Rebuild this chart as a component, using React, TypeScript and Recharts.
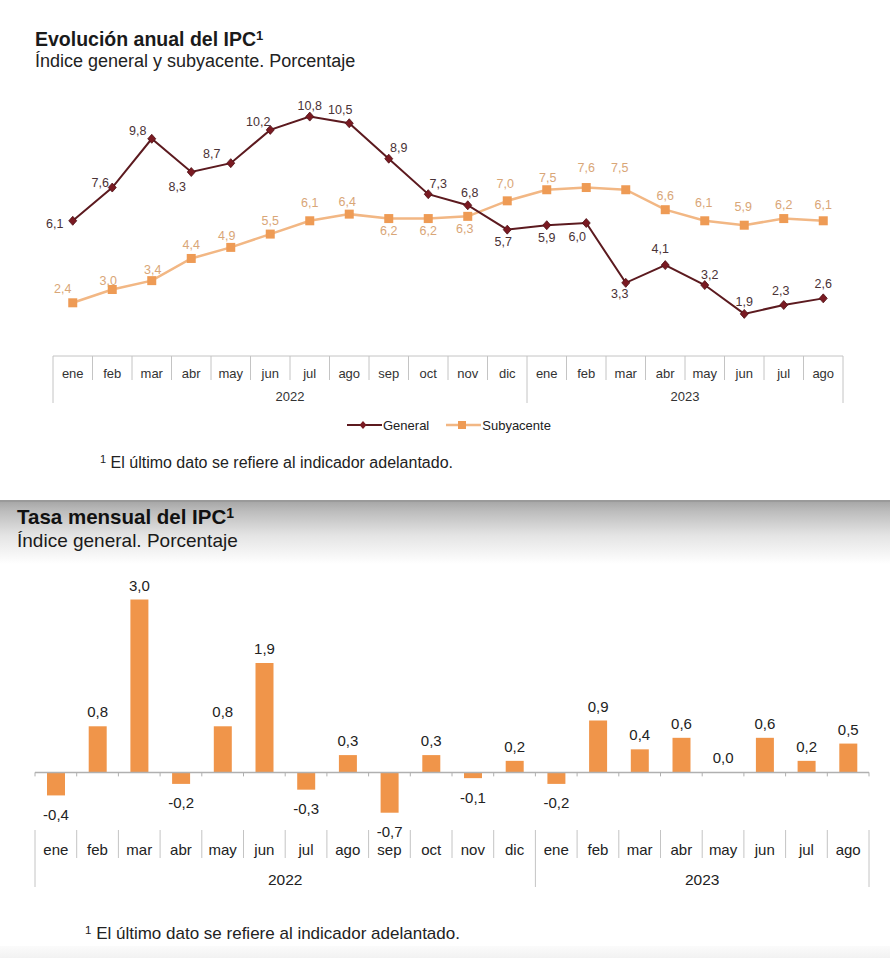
import React from 'react';
import { LineChart, Line, XAxis, YAxis, BarChart, Bar, LabelList, ReferenceLine } from 'recharts';

// ---------- data ----------
const months = ['ene', 'feb', 'mar', 'abr', 'may', 'jun', 'jul', 'ago', 'sep', 'oct', 'nov', 'dic', 'ene', 'feb', 'mar', 'abr', 'may', 'jun', 'jul', 'ago'];
const years = ['2022', '2022', '2022', '2022', '2022', '2022', '2022', '2022', '2022', '2022', '2022', '2022', '2023', '2023', '2023', '2023', '2023', '2023', '2023', '2023'];
const general = [6.1, 7.6, 9.8, 8.3, 8.7, 10.2, 10.8, 10.5, 8.9, 7.3, 6.8, 5.7, 5.9, 6.0, 3.3, 4.1, 3.2, 1.9, 2.3, 2.6];
const subyacente = [2.4, 3.0, 3.4, 4.4, 4.9, 5.5, 6.1, 6.4, 6.2, 6.2, 6.3, 7.0, 7.5, 7.6, 7.5, 6.6, 6.1, 5.9, 6.2, 6.1];
const mensual = [-0.4, 0.8, 3.0, -0.2, 0.8, 1.9, -0.3, 0.3, -0.7, 0.3, -0.1, 0.2, -0.2, 0.9, 0.4, 0.6, 0.0, 0.6, 0.2, 0.5];

// label placement (style only)
const genLabelOffsets: [number, number][] = [[-18, 3], [-12, -5], [-14, -8], [-14, 15], [-19, -9], [-12, -8], [0, -11], [-9, -13], [10, -11], [10, -10], [2, -12], [-4, 12], [0, 13], [-9, 14], [-6, 11], [-5, -16], [5, -10], [0, -12], [-3, -14], [0, -14]];
const subLabelOffsets: [number, number][] = [[-10, -14], [-4, -9], [1, -11], [0, -13], [-4, -11], [0, -13], [0, -18], [-2, -12], [0, 12], [0, 12], [-3, 13], [-2, -17], [1, -12], [0, -20], [-6, -22], [0, -14], [-1, -18], [-1, -18], [0, -14], [0, -16]];

const annualData = months.map((m, i) => ({ id: `${years[i]}-${m}-${i}`, general: general[i], subyacente: subyacente[i] }));
const monthlyData = months.map((m, i) => ({ id: `${years[i]}-${m}-${i}`, mensual: mensual[i] }));

const FONT = '"Liberation Sans", Arial, Helvetica, sans-serif';
const fmt = (v: number) => v.toFixed(1).replace('.', ',');

const GEN_LINE = '#5c1a1f';
const GEN_DOT = '#7a1a22';
const SUB_LINE = '#f2b784';
const SUB_DOT = '#ee9b55';
const BAR = '#f0954a';
const GRID = '#c4c4c4';

type TickCfg = { bw: number; monthDy: number; sepLen: number; longLen: number; yearDy: number; fontSize: number; yearFontSize: number; color: string };

function makeTick(cfg: TickCfg) {
  return (props: any) => {
    const { x, y, payload } = props;
    const i: number = payload && payload.index != null ? payload.index : props.index;
    const left = x - cfg.bw / 2;
    const right = x + cfg.bw / 2;
    const first = i === 0 || years[i] !== years[i - 1];
    const last = i === months.length - 1;
    const count = years.filter((yy) => yy === years[i]).length;
    return (
      <g key={`tick-${i}`}>
        <text x={x} y={y + cfg.monthDy} textAnchor="middle" dominantBaseline="central" fontSize={cfg.fontSize} fill={cfg.color} fontFamily={FONT}>
          {months[i]}
        </text>
        <line x1={left} y1={y} x2={left} y2={y + (first ? cfg.longLen : cfg.sepLen)} stroke={GRID} strokeWidth={1} />
        {last && <line x1={right} y1={y} x2={right} y2={y + cfg.longLen} stroke={GRID} strokeWidth={1} />}
        {first && (
          <text x={left + (count * cfg.bw) / 2} y={y + cfg.yearDy} textAnchor="middle" dominantBaseline="central" fontSize={cfg.yearFontSize} fill={cfg.color} fontFamily={FONT}>
            {years[i]}
          </text>
        )}
      </g>
    );
  };
}

const TOP_W = 890;
const TOP_MARGIN = { top: 90, right: 47, bottom: 14, left: 53 };
const TOP_BW = (TOP_W - TOP_MARGIN.left - TOP_MARGIN.right) / months.length;
const BOT_MARGIN = { top: 28, right: 21, bottom: 10, left: 35 };
const BOT_BW = (TOP_W - BOT_MARGIN.left - BOT_MARGIN.right) / months.length;

const topTick = makeTick({ bw: TOP_BW, monthDy: 17, sepLen: 24, longLen: 47, yearDy: 40, fontSize: 13, yearFontSize: 13, color: '#333' });
const botTick = makeTick({ bw: BOT_BW, monthDy: 19, sepLen: 28, longLen: 57, yearDy: 49, fontSize: 15, yearFontSize: 15.5, color: '#222' });

const renderDiamond = (props: any) => {
  const { cx, cy, index } = props;
  if (cx == null || cy == null) return <g key={`gd-${index}`} />;
  return <path key={`gd-${index}`} d={`M${cx},${cy - 4.5}L${cx + 4},${cy}L${cx},${cy + 4.5}L${cx - 4},${cy}Z`} fill={GEN_DOT} stroke="#4e1015" strokeWidth={0.8} />;
};
const renderSquare = (props: any) => {
  const { cx, cy, index } = props;
  if (cx == null || cy == null) return <g key={`sd-${index}`} />;
  return <rect key={`sd-${index}`} x={cx - 4.5} y={cy - 4.5} width={9} height={9} fill={SUB_DOT} />;
};

const makeLineLabel = (offsets: [number, number][], color: string) => (props: any) => {
  const { x, y, value, index } = props;
  const [dx, dy] = offsets[index] || [0, -12];
  return (
    <text key={`ll-${index}`} x={x + dx} y={y + dy} textAnchor="middle" dominantBaseline="central" fontSize={12.5} fill={color} fontFamily={FONT}>
      {fmt(Number(value))}
    </text>
  );
};

const renderBarLabel = (props: any) => {
  const { x, y, width, height, value, index } = props;
  const v = Number(value);
  const h = Number(height) || 0;
  const top = Math.min(y, y + h);
  const bottom = Math.max(y, y + h);
  const ly = v > 0 || Math.abs(v) < 1e-9 ? top - 14.5 : bottom + 19;
  return (
    <text key={`bl-${index}`} x={x + width / 2} y={ly} textAnchor="middle" dominantBaseline="central" fontSize={15} fill="#222" fontFamily={FONT}>
      {fmt(v)}
    </text>
  );
};

const zeroLineShape = (p: any) => {
  const { x1, x2, y1 } = p;
  const n = months.length;
  const step = (x2 - x1) / n;
  const ticks = [];
  for (let k = 0; k <= n; k++) {
    ticks.push(<line key={`zt-${k}`} x1={x1 + k * step} y1={y1} x2={x1 + k * step} y2={y1 + 4} stroke="#b0b0b0" strokeWidth={1} />);
  }
  return (
    <g>
      <line x1={x1} y1={y1} x2={x2} y2={y1} stroke="#b0b0b0" strokeWidth={1.5} />
      {ticks}
    </g>
  );
};

const abs = (top: number, left: number, extra: React.CSSProperties = {}): React.CSSProperties => ({ position: 'absolute', top, left, ...extra });

export default function App() {
  return (
    <div style={{ position: 'absolute', top: 0, left: 0, width: 890, height: 958, background: '#fff', overflow: 'hidden', fontFamily: FONT }}>
      {/* Top section */}
      <div style={abs(30, 35, { fontSize: 19.5, fontWeight: 'bold', lineHeight: '19.5px', color: '#1a1a1a', whiteSpace: 'nowrap' })}>
        Evolución anual del IPC<span style={{ fontSize: 13, position: 'relative', top: -6 }}>1</span>
      </div>
      <div style={abs(52, 35, { fontSize: 18, lineHeight: '18px', color: '#222', whiteSpace: 'nowrap' })}>Índice general y subyacente. Porcentaje</div>

      <div style={abs(0, 0)}>
        <LineChart width={TOP_W} height={420} data={annualData} margin={TOP_MARGIN}>
          <XAxis dataKey="id" interval={0} tickLine={false} tickSize={0} tickMargin={0} height={50} padding={{ left: TOP_BW / 2, right: TOP_BW / 2 }} axisLine={{ stroke: GRID }} tick={topTick} />
          <YAxis hide domain={[0, 12]} />
          <Line dataKey="subyacente" stroke={SUB_LINE} strokeWidth={2.5} dot={renderSquare} activeDot={false} isAnimationActive={false}>
            <LabelList dataKey="subyacente" content={makeLineLabel(subLabelOffsets, '#d9a677')} />
          </Line>
          <Line dataKey="general" stroke={GEN_LINE} strokeWidth={2} dot={renderDiamond} activeDot={false} isAnimationActive={false}>
            <LabelList dataKey="general" content={makeLineLabel(genLabelOffsets, '#4a3236')} />
          </Line>
        </LineChart>
      </div>

      {/* Legend */}
      <div style={abs(417, 347, { display: 'flex', alignItems: 'center', height: 16, fontSize: 13, color: '#222', whiteSpace: 'nowrap' })}>
        <svg width={35} height={10} style={{ display: 'block' }}>
          <line x1={0} y1={5} x2={35} y2={5} stroke={GEN_LINE} strokeWidth={2} />
          <path d="M16,1L19.5,5L16,9L12.5,5Z" fill={GEN_DOT} />
        </svg>
        <span style={{ marginLeft: 1 }}>General</span>
        <svg width={35} height={10} style={{ display: 'block', marginLeft: 17 }}>
          <line x1={0} y1={5} x2={35} y2={5} stroke={SUB_LINE} strokeWidth={2.5} />
          <rect x={12} y={1} width={8} height={8} fill={SUB_DOT} />
        </svg>
        <span style={{ marginLeft: 1 }}>Subyacente</span>
      </div>

      <div style={abs(455, 100, { fontSize: 16, lineHeight: '16px', color: '#222', whiteSpace: 'nowrap' })}>
        <span style={{ fontSize: 11, position: 'relative', top: -5 }}>1</span> El último dato se refiere al indicador adelantado.
      </div>

      {/* Bottom section band */}
      <div style={abs(500, 0, { width: 890, height: 64, background: 'linear-gradient(#a3a3a3 0%, #bdbdbd 18%, #e4e4e4 55%, #ffffff 100%)' })} />
      <div style={abs(500, 0, { width: 890, height: 2, background: '#9a9a9a' })} />
      <div style={abs(507, 17, { fontSize: 20.5, fontWeight: 'bold', lineHeight: '20.5px', color: '#111', whiteSpace: 'nowrap' })}>
        Tasa mensual del IPC<span style={{ fontSize: 14, position: 'relative', top: -6 }}>1</span>
      </div>
      <div style={abs(531, 17, { fontSize: 19, lineHeight: '19px', color: '#1a1a1a', whiteSpace: 'nowrap' })}>Índice general. Porcentaje</div>

      <div style={abs(560, 0)}>
        <BarChart width={TOP_W} height={340} data={monthlyData} margin={BOT_MARGIN}>
          <XAxis dataKey="id" interval={0} tickLine={false} tickSize={0} tickMargin={0} height={60} axisLine={false} tick={botTick} />
          <YAxis hide domain={[-1, 3.2]} />
          <ReferenceLine y={0} shape={zeroLineShape} />
          <Bar dataKey="mensual" fill={BAR} barSize={18} minPointSize={0.01} isAnimationActive={false}>
            <LabelList dataKey="mensual" content={renderBarLabel} />
          </Bar>
        </BarChart>
      </div>

      <div style={abs(925, 85, { fontSize: 17, lineHeight: '17px', color: '#222', whiteSpace: 'nowrap' })}>
        <span style={{ fontSize: 11.5, position: 'relative', top: -5 }}>1</span> El último dato se refiere al indicador adelantado.
      </div>
      <div style={abs(946, 0, { width: 890, height: 12, background: 'linear-gradient(#fbfbfb, #f2f2f2)' })} />
    </div>
  );
}
